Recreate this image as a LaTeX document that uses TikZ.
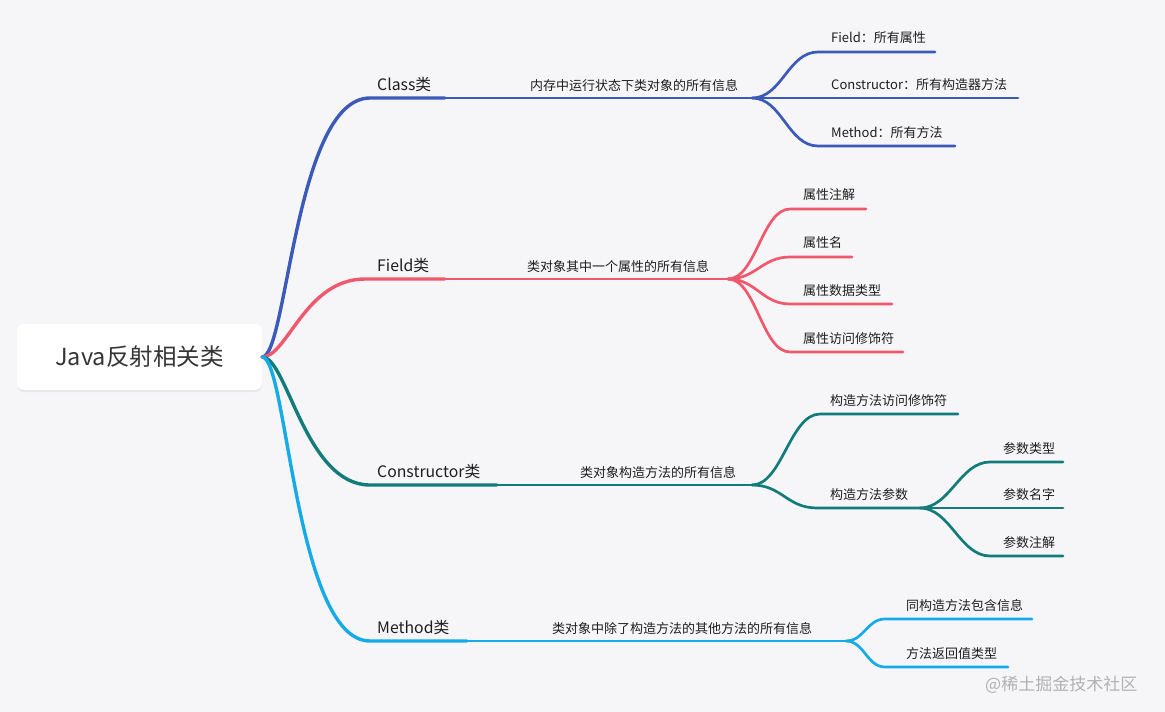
\documentclass[tikz,border=0pt]{standalone}
\usepackage{fontspec}
\setmainfont{Noto Sans CJK SC}
\usepackage{xcolor}
\usepackage{tikz}
\usetikzlibrary{shadows}
\definecolor{canvas}{RGB}{246, 246, 248}
\definecolor{classc}{RGB}{60, 90, 185}
\definecolor{fieldc}{RGB}{240, 88, 108}
\definecolor{consc}{RGB}{18, 124, 124}
\definecolor{methc}{RGB}{22, 170, 232}
\definecolor{ink}{RGB}{30, 30, 30}
\tikzstyle{root} = [rectangle, rounded corners=7pt, fill=white, minimum width=245pt, minimum height=66pt, text=ink!90, font=\fontsize{23.5}{27}\selectfont, drop shadow={shadow xshift=0pt, shadow yshift=-2pt, opacity=0.06, fill=black}]
\tikzstyle{main} = [anchor=base west, inner sep=0pt, text=ink, font=\fontsize{15.8}{18}\selectfont]
\tikzstyle{desc} = [anchor=base west, inner sep=0pt, text=ink, font=\fontsize{13}{15}\selectfont]
\tikzstyle{leaf} = [anchor=base west, inner sep=0pt, text=ink, font=\fontsize{13}{15}\selectfont]
\tikzstyle{trunk} = [line width=3.4pt, line cap=round]
\tikzstyle{twig} = [line width=2.7pt, line cap=round]

\begin{document}
\begin{tikzpicture}[x=1pt, y=-1pt]
    % Canvas
    \fill[canvas] (0,0) rectangle (1165,712);
    \useasboundingbox (0,0) rectangle (1165,712);

    % Root topic
    \node[root] (root) at (139.5,357) {Java反射相关类};

    % Class branch
    \coordinate (clsS) at (370,98);
    \coordinate (clsM) at (445,98);
    \coordinate (clsB) at (752,98);
    \node[main] (cls) at (377,90) {Class类};
    \node[desc] (clsD) at (530,90) {内存中运行状态下类对象的所有信息};
    \draw[trunk, classc] (root.east) .. controls +(25,0) and +(-75,0) .. (clsS) -- (clsM);
    \draw[twig, classc] (clsM) -- (clsB);

    \coordinate (clsFs) at (818,52);   \coordinate (clsFe) at (935,52);
    \coordinate (clsCs) at (818,98);   \coordinate (clsCe) at (1018,98);
    \coordinate (clsMs) at (818,146);  \coordinate (clsMe) at (955,146);
    \node[leaf] (clsF) at (831,42) {Field：所有属性};
    \node[leaf] (clsC) at (831,89) {Constructor：所有构造器方法};
    \node[leaf] (clsMt) at (831,137) {Method：所有方法};
    \draw[twig, classc] (clsB) .. controls +(30,0) and +(-30,0) .. (clsFs) -- (clsFe);
    \draw[twig, classc] (clsB) -- (clsCs) -- (clsCe);
    \draw[twig, classc] (clsB) .. controls +(30,0) and +(-30,0) .. (clsMs) -- (clsMe);

    % Field branch
    \coordinate (fldS) at (365,279);
    \coordinate (fldM) at (445,279);
    \coordinate (fldB) at (728,279);
    \node[main] (fld) at (377,271) {Field类};
    \node[desc] (fldD) at (527,271) {类对象其中一个属性的所有信息};
    \draw[trunk, fieldc] (root.east) .. controls +(25,0) and +(-60,0) .. (fldS) -- (fldM);
    \draw[twig, fieldc] (fldM) -- (fldB);

    \coordinate (fldAs) at (790,209);  \coordinate (fldAe) at (866,209);
    \coordinate (fldNs) at (790,257);  \coordinate (fldNe) at (852,257);
    \coordinate (fldTs) at (790,304);  \coordinate (fldTe) at (892,304);
    \coordinate (fldMs) at (790,352);  \coordinate (fldMe) at (903,352);
    \node[leaf] (fldA) at (803,199) {属性注解};
    \node[leaf] (fldN) at (803,247) {属性名};
    \node[leaf] (fldT) at (803,295) {属性数据类型};
    \node[leaf] (fldMo) at (803,343) {属性访问修饰符};
    \draw[twig, fieldc] (fldB) .. controls +(28,0) and +(-28,0) .. (fldAs) -- (fldAe);
    \draw[twig, fieldc] (fldB) .. controls +(28,0) and +(-28,0) .. (fldNs) -- (fldNe);
    \draw[twig, fieldc] (fldB) .. controls +(28,0) and +(-28,0) .. (fldTs) -- (fldTe);
    \draw[twig, fieldc] (fldB) .. controls +(28,0) and +(-28,0) .. (fldMs) -- (fldMe);

    % Constructor branch
    \coordinate (conS) at (370,485);
    \coordinate (conM) at (497,485);
    \coordinate (conB) at (752,485);
    \node[main] (con) at (377,477) {Constructor类};
    \node[desc] (conD) at (580,477) {类对象构造方法的所有信息};
    \draw[trunk, consc] (root.east) .. controls +(25,0) and +(-65,0) .. (conS) -- (conM);
    \draw[twig, consc] (conM) -- (conB);

    \coordinate (conAs) at (820,414);  \coordinate (conAe) at (958,414);
    \coordinate (conPs) at (817,508);  \coordinate (conPB) at (920,508);
    \node[leaf] (conA) at (830,405) {构造方法访问修饰符};
    \node[leaf] (conP) at (830,499) {构造方法参数};
    \draw[twig, consc] (conB) .. controls +(30,0) and +(-30,0) .. (conAs) -- (conAe);
    \draw[twig, consc] (conB) .. controls +(30,0) and +(-30,0) .. (conPs) -- (conPB);

    % Constructor parameters
    \coordinate (parTs) at (990,462);  \coordinate (parTe) at (1063,462);
    \coordinate (parNs) at (990,508);  \coordinate (parNe) at (1063,508);
    \coordinate (parAs) at (990,556);  \coordinate (parAe) at (1063,556);
    \node[leaf] (parT) at (1003,453) {参数类型};
    \node[leaf] (parN) at (1003,499) {参数名字};
    \node[leaf] (parA) at (1003,547) {参数注解};
    \draw[twig, consc] (conPB) .. controls +(30,0) and +(-30,0) .. (parTs) -- (parTe);
    \draw[twig, consc] (conPB) -- (parNs) -- (parNe);
    \draw[twig, consc] (conPB) .. controls +(30,0) and +(-30,0) .. (parAs) -- (parAe);

    % Method branch
    \coordinate (mthS) at (370,641);
    \coordinate (mthM) at (467,641);
    \coordinate (mthB) at (846,641);
    \node[main] (mth) at (377,633) {Method类};
    \node[desc] (mthD) at (552,633) {类对象中除了构造方法的其他方法的所有信息};
    \draw[trunk, methc] (root.east) .. controls +(25,0) and +(-75,0) .. (mthS) -- (mthM);
    \draw[twig, methc] (mthM) -- (mthB);

    \coordinate (mthSs) at (885,619);  \coordinate (mthSe) at (1032,619);
    \coordinate (mthRs) at (885,667);  \coordinate (mthRe) at (1008,667);
    \node[leaf] (mthSm) at (906,610) {同构造方法包含信息};
    \node[leaf] (mthR) at (906,658) {方法返回值类型};
    \draw[twig, methc] (mthB) .. controls +(18,0) and +(-18,0) .. (mthSs) -- (mthSe);
    \draw[twig, methc] (mthB) .. controls +(18,0) and +(-18,0) .. (mthRs) -- (mthRe);

    % Watermark
    \node[anchor=base west, inner sep=0pt, text=black!30, font=\fontsize{17}{20}\selectfont] (mark) at (985,690) {@稀土掘金技术社区};
\end{tikzpicture}
\end{document}
